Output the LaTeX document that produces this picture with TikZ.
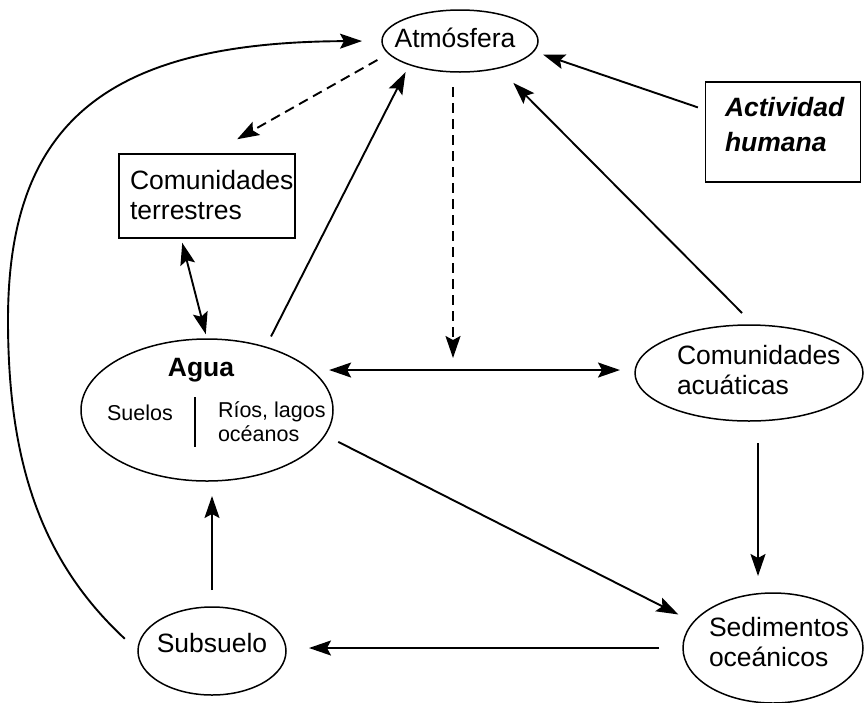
\documentclass[tikz,border=0pt]{standalone}
\usepackage{fontspec}
\setmainfont{Liberation Sans}
\usetikzlibrary{arrows.meta,shapes.geometric,calc}
\begin{document}
\begin{tikzpicture}[x=1pt,y=-1pt,
  every node/.style={inner sep=0pt, outer sep=0pt},
  ell/.style={draw, ellipse, line width=1.5pt},
  box/.style={draw, rectangle, line width=1.4pt},
  txt/.style={font=\fontsize{26.5}{30}\selectfont, align=left},
  subtxt/.style={font=\fontsize{21.5}{24}\selectfont, align=left},
  conn/.style={line width=1.9pt, -{Stealth[length=22pt,width=15pt,inset=4pt]}},
  twoway/.style={line width=1.9pt, {Stealth[length=22pt,width=15pt,inset=4pt]}-{Stealth[length=22pt,width=15pt,inset=4pt]}},
  dashline/.style={dash pattern=on 10pt off 6pt}
]
\useasboundingbox (0,0) rectangle (864,702);

% shapes
\node[ell, minimum width=156pt, minimum height=62pt] (atm) at (460,41) {};
\node[box, minimum width=176pt, minimum height=84pt] (term) at (207,196) {};
\node[box, minimum width=155pt, minimum height=100pt] (act) at (783,132) {};
\node[ell, minimum width=252pt, minimum height=142pt] (agua) at (207,410) {};
\node[ell, minimum width=228pt, minimum height=96pt] (acu) at (749,373) {};
\node[ell, minimum width=180pt, minimum height=110pt] (sed) at (773,648) {};
\node[ell, minimum width=148pt, minimum height=88pt] (sub) at (212,651) {};

% texts
\node[txt, anchor=base] (atmT) at (455,47) {Atmósfera};
\node[txt, anchor=west] (termT) at (130,195.5) {Comunidades\\terrestres};
\node[txt, anchor=west, font=\fontsize{26.5}{35}\selectfont\bfseries\itshape] (actT) at (725,125) {Actividad\\humana};
\node[txt, anchor=west] (acuT) at (677,370.5) {Comunidades\\acuáticas};
\node[txt, anchor=west] (sedT) at (709,642.5) {Sedimentos\\oceánicos};
\node[txt, anchor=base] (subT) at (212,652) {Subsuelo};
\node[txt, anchor=base, font=\fontsize{26.5}{30}\selectfont\bfseries] (aguaT) at (201,376) {Agua};
\node[subtxt, anchor=base] (suelT) at (140,420.5) {Suelos};
\node[subtxt, anchor=west] (riosT) at (218,422) {Ríos, lagos\\océanos};
\draw[line width=1.6pt] (195,397) -- (195,447);

% connectors
\draw[conn, shorten <=18pt, shorten >=20pt] (sub.180) .. controls (40,560) and (8,460) .. (8,320) .. controls (8,120) and (110,42) .. (atm.west);
\draw[conn, dashline, shorten <=13pt, shorten >=30pt] (atm.190) -- ([xshift=4pt]term.north);
\draw[twoway, shorten <=5pt, shorten >=5pt] ([xshift=-26pt]term.south) -- (agua.north);
\draw[conn, shorten <=12pt, shorten >=8.5pt] (agua.47) -- (atm.205);
\coordinate (hmid) at (453,370);
\draw[conn, dashline, shorten <=15pt, shorten >=12pt] ([xshift=-7pt]atm.south) -- (hmid);
\draw[twoway, shorten <=18pt, shorten >=15pt] (agua.21) -- (agua.21 -| acu.west);
\draw[conn, shorten <=17pt, shorten >=21pt] (acu.84) -- (atm.-35);
\draw[conn, shorten <=8pt, shorten >=10pt] ([yshift=22pt]act.west) -- (atm.-8);
\draw[conn, shorten <=15pt, shorten >=17pt] (agua.-12.5) -- (sed.162);
\draw[conn, shorten <=22pt, shorten >=17pt] ([xshift=9pt]acu.south) -- ([xshift=9pt]acu.south |- sed.north);
\draw[conn, shorten <=24pt, shorten >=23pt] (sed.west) -- (sed.west -| sub.east);
\draw[conn, shorten <=17pt, shorten >=15pt] (sub.north) -- (sub.north |- agua.south);
\end{tikzpicture}
\end{document}
